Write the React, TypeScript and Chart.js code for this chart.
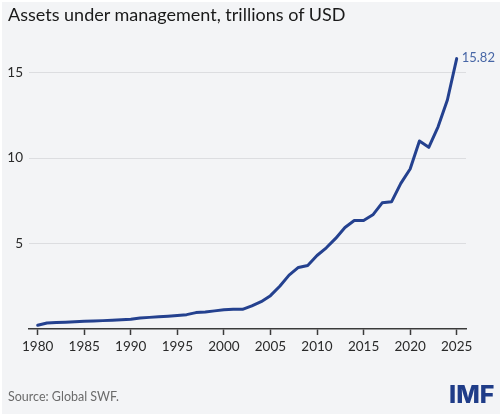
import React, { useEffect, useRef } from "react";
import { Chart, registerables } from "chart.js";

Chart.register(...registerables);

// Sovereign wealth fund assets under management, trillions of USD
const years: number[] = [
  1980, 1981, 1982, 1983, 1984, 1985, 1986, 1987, 1988, 1989,
  1990, 1991, 1992, 1993, 1994, 1995, 1996, 1997, 1998, 1999,
  2000, 2001, 2002, 2003, 2004, 2005, 2006, 2007, 2008, 2009,
  2010, 2011, 2012, 2013, 2014, 2015, 2016, 2017, 2018, 2019,
  2020, 2021, 2022, 2023, 2024, 2025,
];
const assets: number[] = [
  0.22, 0.35, 0.38, 0.4, 0.43, 0.45, 0.47, 0.49, 0.51, 0.54,
  0.57, 0.64, 0.68, 0.71, 0.75, 0.79, 0.84, 0.96, 1.0, 1.06,
  1.13, 1.16, 1.15, 1.35, 1.6, 1.95, 2.5, 3.15, 3.6, 3.72,
  4.3, 4.75, 5.3, 5.94, 6.35, 6.35, 6.68, 7.38, 7.44, 8.52,
  9.36, 11.0, 10.63, 11.83, 13.4, 15.82,
];
const xTicks: number[] = [1980, 1985, 1990, 1995, 2000, 2005, 2010, 2015, 2020, 2025];
const yTicks: number[] = [5, 10, 15];

const LINE = "#24418f";
const FONT = "Lato, 'Open Sans', sans-serif";

// Labels the final point with its value
const endLabel = {
  id: "endLabel",
  afterDatasetsDraw(chart: any) {
    const meta = chart.getDatasetMeta(0);
    const last = meta.data[meta.data.length - 1];
    const value = assets[assets.length - 1];
    const ctx = chart.ctx;
    ctx.save();
    ctx.font = `13px ${FONT}`;
    ctx.fillStyle = "#4766a6";
    ctx.textAlign = "left";
    ctx.textBaseline = "middle";
    ctx.fillText(value.toFixed(2), last.x + 5, last.y - 1);
    ctx.restore();
  },
};

export default function App() {
  const ref = useRef<HTMLCanvasElement | null>(null);

  useEffect(() => {
    if (!ref.current) return;
    const chart = new Chart(ref.current, {
      type: "line",
      data: {
        datasets: [
          {
            data: years.map((y, i) => ({ x: y, y: assets[i] })),
            borderColor: LINE,
            borderWidth: 3,
            pointRadius: 0,
            tension: 0,
            borderJoinStyle: "round",
            borderCapStyle: "round",
          },
        ],
      },
      options: {
        animation: false,
        responsive: false,
        maintainAspectRatio: false,
        layout: { padding: { top: 55, right: 34, left: 0, bottom: 0 } },
        plugins: {
          legend: { display: false },
          tooltip: { enabled: false },
        },
        scales: {
          x: {
            type: "linear",
            min: 1979.07,
            max: 2026,
            afterBuildTicks: (scale: any) => {
              scale.ticks = xTicks.map((v) => ({ value: v }));
            },
            afterFit: (scale: any) => {
              scale.height = 85;
            },
            border: { display: true, color: "#3a3a3a", width: 1.5 },
            grid: {
              drawOnChartArea: false,
              drawTicks: true,
              tickLength: 6,
              tickColor: "#3a3a3a",
              tickWidth: 1.5,
            },
            ticks: {
              autoSkip: false,
              maxRotation: 0,
              padding: 4,
              color: "#2a2a2a",
              font: { family: FONT, size: 13.5 },
              callback: (v: any) => String(v),
            },
          },
          y: {
            min: 0,
            max: 16.03,
            afterBuildTicks: (scale: any) => {
              scale.ticks = yTicks.map((v) => ({ value: v }));
            },
            afterFit: (scale: any) => {
              scale.width = 29;
            },
            border: { display: false },
            grid: {
              color: "#dcdde0",
              lineWidth: 1,
              drawTicks: false,
            },
            ticks: {
              padding: 6,
              color: "#2a2a2a",
              font: { family: FONT, size: 13.5 },
            },
          },
        },
      },
      plugins: [endLabel],
    });
    return () => chart.destroy();
  }, []);

  return (
    <div
      style={{
        position: "fixed",
        left: 0,
        top: 0,
        width: 500,
        height: 414,
        background: "#ffffff",
        overflow: "hidden",
      }}
    >
      <div
        style={{
          position: "absolute",
          left: 2,
          top: 2,
          width: 498,
          height: 412,
          background: "#f3f4f6",
        }}
      />
      <canvas
        ref={ref}
        width={500}
        height={414}
        style={{ position: "absolute", left: 0, top: 0, width: 500, height: 414 }}
      />
      <div
        style={{
          position: "absolute",
          left: 8,
          top: 3,
          fontFamily: FONT,
          fontSize: 18,
          color: "#1a1a1a",
          whiteSpace: "nowrap",
        }}
      >
        Assets under management, trillions of USD
      </div>
      <div
        style={{
          position: "absolute",
          left: 8,
          top: 389,
          fontFamily: FONT,
          fontSize: 12.5,
          color: "#6b6b6b",
          whiteSpace: "nowrap",
        }}
      >
        Source: Global SWF.
      </div>
      <div
        style={{
          position: "absolute",
          left: 449,
          top: 379,
          fontFamily: "Inter, 'Open Sans', sans-serif",
          fontWeight: 800,
          fontSize: 25,
          color: "#1f3c88",
          letterSpacing: 0,
          whiteSpace: "nowrap",
        }}
      >
        IMF
      </div>
    </div>
  );
}
